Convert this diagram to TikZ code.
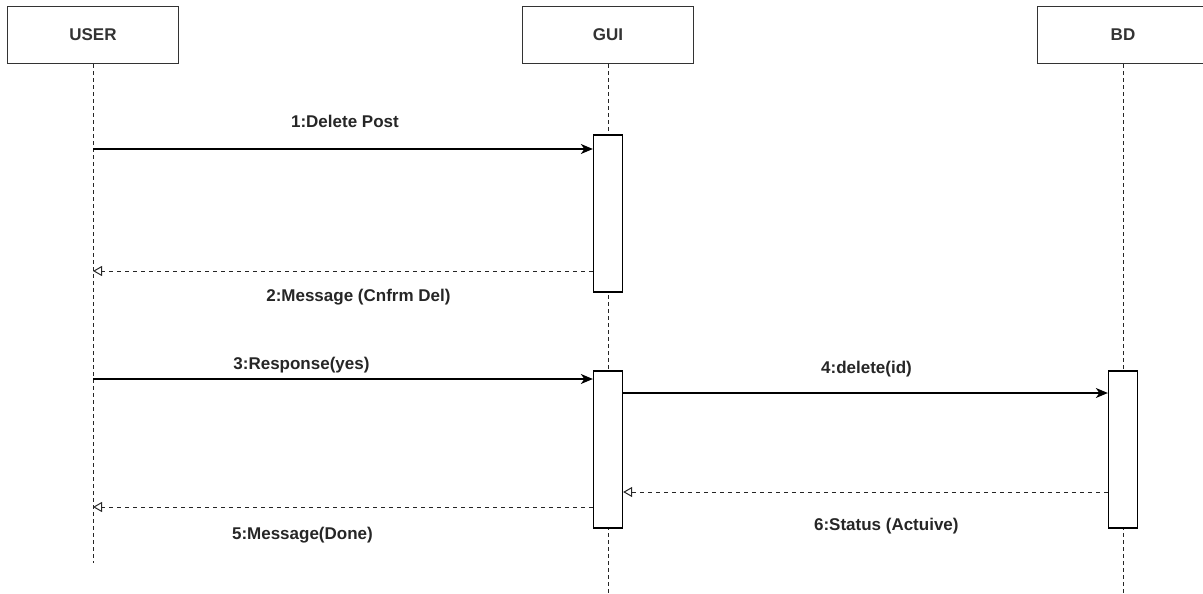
\documentclass[tikz,border=0pt]{standalone}
\usepackage{fontspec}
\setmainfont{Liberation Sans}
\usetikzlibrary{arrows.meta}
\begin{document}
\begin{tikzpicture}[x=1pt,y=-1pt,
  head/.style={draw=black!80,line width=1.3pt,minimum width=171pt,minimum height=57pt,font=\bfseries\fontsize{17}{20}\selectfont,text=black!80},
  bar/.style={draw,fill=white,line width=1.3pt,minimum width=29pt,minimum height=157pt,inner sep=0pt},
  life/.style={black!85,line width=1pt,dash pattern=on 4pt off 3pt},
  call/.style={line width=1.3pt,-{Stealth[length=12pt,width=10pt,inset=3.5pt]}},
  reply/.style={black!85,line width=1pt,dash pattern=on 4pt off 4pt,-{Triangle[open,length=9pt,width=10pt]}},
  lbl/.style={font=\bfseries\fontsize{17}{20}\selectfont,text=black!85,anchor=base}]
\useasboundingbox (0,0) rectangle (1203,594);
% lifelines
\node[head] (user) at (93,35) {USER};
\node[head] (gui) at (608,35) {GUI};
\node[head] (bd) at (1123,35) {BD};
\coordinate (userend) at (93,563);
\coordinate (guiend) at (608,594);
\coordinate (bdend) at (1123,594);
\draw[life] (user) -- (userend);
\draw[life] (gui) -- (guiend);
\draw[life] (bd) -- (bdend);
% activations
\node[bar] (act1) at (608,213.5) {};
\node[bar] (act2) at (608,449.5) {};
\node[bar] (act3) at (1123,449.5) {};
% messages
\coordinate (m1) at (0,149);
\coordinate (m2) at (0,271);
\coordinate (m3) at (0,379);
\coordinate (m4) at (0,393);
\coordinate (m5) at (0,507);
\coordinate (m6) at (0,492);
\draw[call] (user |- m1) -- (act1.west |- m1) node[lbl,pos=.504,yshift=21pt] {1:Delete Post};
\draw[reply] (act1.west |- m2) -- (user |- m2) node[lbl,pos=.469,yshift=-30pt] {2:Message (Cnfrm Del)};
\draw[call] (user |- m3) -- (act2.west |- m3) node[lbl,pos=.417,yshift=10pt] {3:Response(yes)};
\draw[call] (act2.east |- m4) -- (act3.west |- m4) node[lbl,pos=.502,yshift=20pt] {4:delete(id)};
\draw[reply] (act2.west |- m5) -- (user |- m5) node[lbl,pos=.581,yshift=-32pt] {5:Message(Done)};
\draw[reply] (act3.west |- m6) -- (act2.east |- m6) node[lbl,pos=.457,yshift=-38pt] {6:Status (Actuive)};
\end{tikzpicture}
\end{document}
